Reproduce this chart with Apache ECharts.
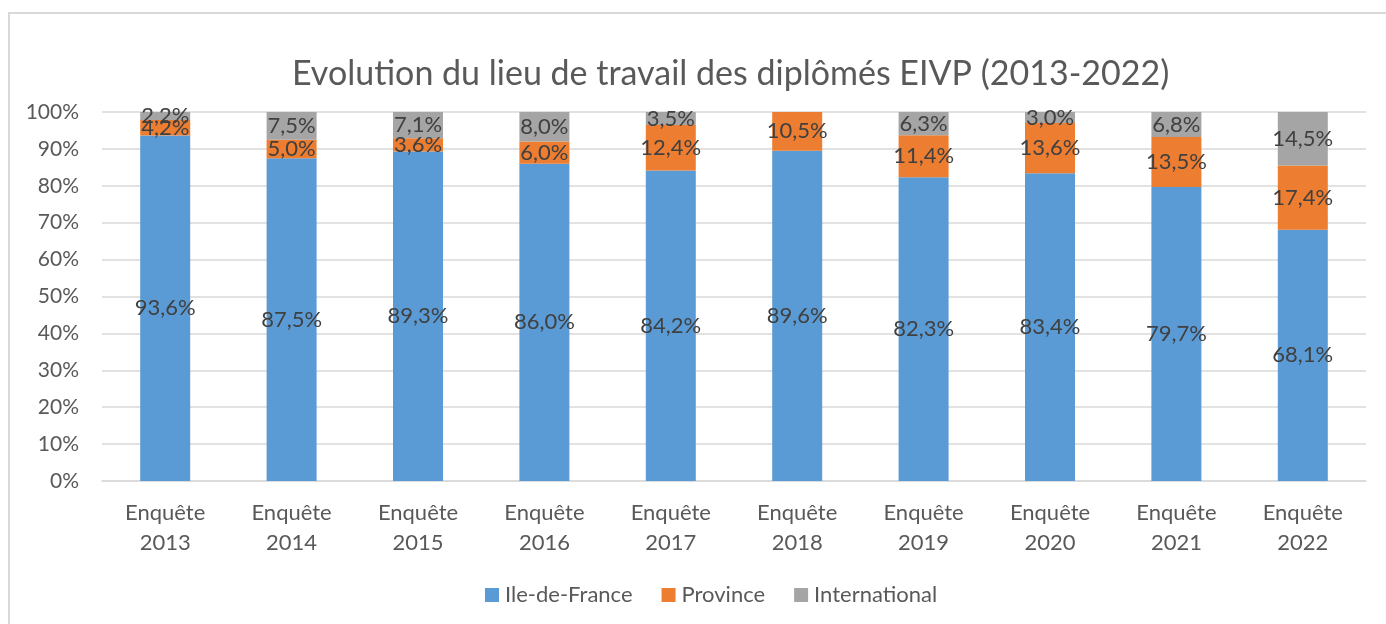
<!DOCTYPE html>
<html>
<head>
<meta charset="utf-8">
<script src="https://cdn.jsdelivr.net/npm/echarts@6/dist/echarts.min.js"></script>
<style>
  html, body { margin: 0; padding: 0; background: #fff; }
  #chart { width: 1386px; height: 624px; }
</style>
</head>
<body>
<div id="chart"></div>
<script>
var years = ['2013', '2014', '2015', '2016', '2017', '2018', '2019', '2020', '2021', '2022'];
var ileDeFrance = [93.6, 87.5, 89.3, 86.0, 84.2, 89.6, 82.3, 83.4, 79.7, 68.1];
var province = [4.2, 5.0, 3.6, 6.0, 12.4, 10.5, 11.4, 13.6, 13.5, 17.4];
var international = [2.2, 7.5, 7.1, 8.0, 3.5, 0, 6.3, 3.0, 6.8, 14.5];

var categories = years.map(function (y) { return 'Enquête\n' + y; });

// 100% stacked like excel: scale each column to its total
function share(arr) {
    return arr.map(function (v, i) {
        var total = ileDeFrance[i] + province[i] + international[i];
        return { value: v / total * 100, raw: v };
    });
}

var font = 'Lato';
var textGrey = '#595959';

function makeSeries(name, arr, color) {
    return {
        name: name,
        type: 'bar',
        stack: 'total',
        barWidth: 50,
        data: share(arr),
        itemStyle: { color: color },
        label: {
            show: true,
            position: 'inside',
            color: '#404040',
            fontFamily: font,
            fontSize: 22,
            formatter: function (p) {
                if (!p.data.raw) return '';
                return p.data.raw.toFixed(1).replace('.', ',') + '%';
            }
        }
    };
}

var chart = echarts.init(document.getElementById('chart'));
var option = {
    animation: false,
    title: {
        text: 'Evolution du lieu de travail des diplômés EIVP (2013-2022)',
        left: 287,
        top: 52,
        textStyle: { fontFamily: font, fontSize: 34, fontWeight: 'normal', color: textGrey }
    },
    graphic: [{
        type: 'rect',
        shape: { x: 9, y: 13, width: 1400, height: 700 },
        style: { fill: 'none', stroke: '#d9d9d9', lineWidth: 2 }
    }],
    legend: {
        bottom: 13,
        left: 480,
        itemWidth: 14,
        itemHeight: 14,
        itemGap: 29,
        icon: 'rect',
        textStyle: { fontFamily: font, fontSize: 22, color: textGrey, padding: [0, 0, 0, 1] },
        data: ['Ile-de-France', 'Province', 'International']
    },
    grid: { left: 102, right: 20, top: 112, bottom: 143 },
    xAxis: {
        type: 'category',
        data: categories,
        axisLine: { lineStyle: { color: '#d9d9d9', width: 1.5 } },
        axisTick: { show: false },
        axisLabel: { fontFamily: font, fontSize: 22, color: textGrey, lineHeight: 30, margin: 17, interval: 0 }
    },
    yAxis: {
        type: 'value',
        min: 0,
        max: 100,
        interval: 10,
        axisLine: { show: false },
        axisTick: { show: false },
        splitLine: { lineStyle: { color: '#d9d9d9', width: 1.5 } },
        axisLabel: { fontFamily: font, fontSize: 21, color: textGrey, margin: 23, formatter: '{value}%' }
    },
    series: [
        makeSeries('Ile-de-France', ileDeFrance, '#5b9bd5'),
        makeSeries('Province', province, '#ed7d31'),
        makeSeries('International', international, '#a5a5a5')
    ]
};
chart.setOption(option);
</script>
</body>
</html>
